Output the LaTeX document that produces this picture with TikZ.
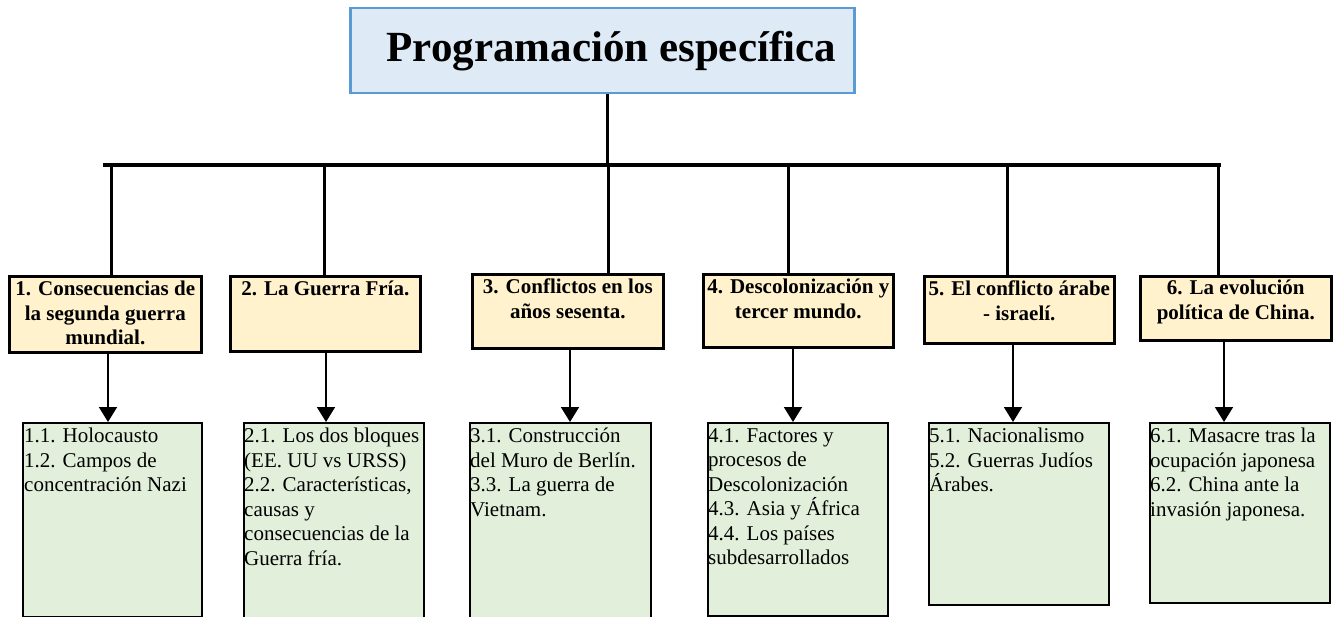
\documentclass[tikz,border=0pt]{standalone}
\usepackage{fontspec}
\setmainfont{Liberation Serif}
\usetikzlibrary{arrows.meta,positioning}
\definecolor{titlefill}{HTML}{DEEBF7}
\definecolor{titleline}{HTML}{5B9BD5}
\definecolor{headfill}{HTML}{FFF2CC}
\definecolor{bodyfill}{HTML}{E2EFDA}
\begin{document}
\begin{tikzpicture}[x=1pt,y=-1pt]
\tikzstyle{every node}+=[inner sep=0pt]
\tikzstyle{titlebox}=[draw=titleline, fill=titlefill, line width=2.5pt, anchor=north west, minimum width=504pt, minimum height=85pt, font=\bfseries\fontsize{43}{48}\selectfont]
\tikzstyle{headbox}=[draw=black, fill=headfill, line width=2.6pt, anchor=north west]
\tikzstyle{bodybox}=[draw=black, fill=bodyfill, line width=2pt, anchor=north west]
\tikzstyle{headtext}=[align=center, font=\bfseries\fontsize{21}{24.5}\selectfont]
\tikzstyle{bodytext}=[align=left, font=\fontsize{21}{24.5}\selectfont]
\tikzstyle{stem}=[black, line width=3pt]
\tikzstyle{arr}=[black, line width=1.8pt, -{Triangle[width=18pt,length=15pt]}]
\useasboundingbox (0,0) rectangle (1335,617);
\node [titlebox] (title) at (349,7) {\hspace*{18pt}Programación específica};
\node [headbox, minimum width=192pt, minimum height=76pt] (h1) at (8,275) {};
\node [headbox, minimum width=190pt, minimum height=75pt] (h2) at (229,275) {};
\node [headbox, minimum width=191pt, minimum height=74pt] (h3) at (471,273) {};
\node [headbox, minimum width=190pt, minimum height=73pt] (h4) at (702,273) {};
\node [headbox, minimum width=190pt, minimum height=67pt] (h5) at (923,275) {};
\node [headbox, minimum width=191pt, minimum height=64pt] (h6) at (1139,275) {};
\node [headtext, below=6pt of h1.north] (h1t) {1. Consecuencias de\\la segunda guerra\\mundial.};
\node [headtext, below=6pt of h2.north] (h2t) {2. La Guerra Fría.};
\node [headtext, below=6pt of h3.north] (h3t) {3. Conflictos en los\\años sesenta.};
\node [headtext, below=6pt of h4.north] (h4t) {4. Descolonización y\\tercer mundo.};
\node [headtext, below=6pt of h5.north] (h5t) {5. El conflicto árabe\\- israelí.};
\node [headtext, below=5pt of h6.north] (h6t) {6. La evolución\\política de China.};
\node [bodybox, minimum width=179pt, minimum height=194pt] (b1) at (22,422) {};
\node [bodybox, minimum width=180pt, minimum height=200pt] (b2) at (243,422) {};
\node [bodybox, minimum width=181pt, minimum height=200pt] (b3) at (469,422) {};
\node [bodybox, minimum width=180pt, minimum height=193pt] (b4) at (707,422) {};
\node [bodybox, minimum width=180pt, minimum height=182pt] (b5) at (928,422) {};
\node [bodybox, minimum width=180pt, minimum height=180pt] (b6) at (1149,422) {};
\node [bodytext, below right=6pt and 2pt of b1.north west] (b1t) {1.1. Holocausto\\1.2. Campos de\\concentración Nazi};
\node [bodytext, below right=6pt and 1pt of b2.north west] (b2t) {2.1. Los dos bloques\\(EE. UU vs URSS)\\2.2. Características,\\causas y\\consecuencias de la\\Guerra fría.};
\node [bodytext, below right=6pt and 1pt of b3.north west] (b3t) {3.1. Construcción\\del Muro de Berlín.\\3.3. La guerra de\\Vietnam.};
\node [bodytext, below right=6pt and 1pt of b4.north west] (b4t) {4.1. Factores y\\procesos de\\Descolonización\\4.3. Asia y África\\4.4. Los países\\subdesarrollados};
\node [bodytext, below right=6pt and 1pt of b5.north west] (b5t) {5.1. Nacionalismo\\5.2. Guerras Judíos\\Árabes.};
\node [bodytext, below right=6pt and 1pt of b6.north west] (b6t) {6.1. Masacre tras la\\ocupación japonesa\\6.2. China ante la\\invasión japonesa.};
\coordinate (bl) at (103,165);
\coordinate (br) at (1221,165);
\coordinate (s0) at (607,165);
\coordinate (t1) at (111,165);
\coordinate (t2) at (324,165);
\coordinate (t3) at (608,165);
\coordinate (t4) at (788,165);
\coordinate (t5) at (1007,165);
\coordinate (t6) at (1218,165);
\coordinate (a1) at (108,0);
\coordinate (a2) at (326,0);
\coordinate (a3) at (570,0);
\coordinate (a4) at (793,0);
\coordinate (a5) at (1013,0);
\coordinate (a6) at (1224,0);
\draw [black, line width=3.5pt] (bl) -- (br);
\draw [stem] (s0 |- title.south) -- (s0);
\draw [stem] (t1) -- (t1 |- h1.north);
\draw [stem] (t2) -- (t2 |- h2.north);
\draw [stem] (t3) -- (t3 |- h3.north);
\draw [stem] (t4) -- (t4 |- h4.north);
\draw [stem] (t5) -- (t5 |- h5.north);
\draw [stem] (t6) -- (t6 |- h6.north);
\draw [arr] (a1 |- h1.south) -- (a1 |- b1.north);
\draw [arr] (a2 |- h2.south) -- (a2 |- b2.north);
\draw [arr] (a3 |- h3.south) -- (a3 |- b3.north);
\draw [arr] (a4 |- h4.south) -- (a4 |- b4.north);
\draw [arr] (a5 |- h5.south) -- (a5 |- b5.north);
\draw [arr] (a6 |- h6.south) -- (a6 |- b6.north);
\end{tikzpicture}
\end{document}
